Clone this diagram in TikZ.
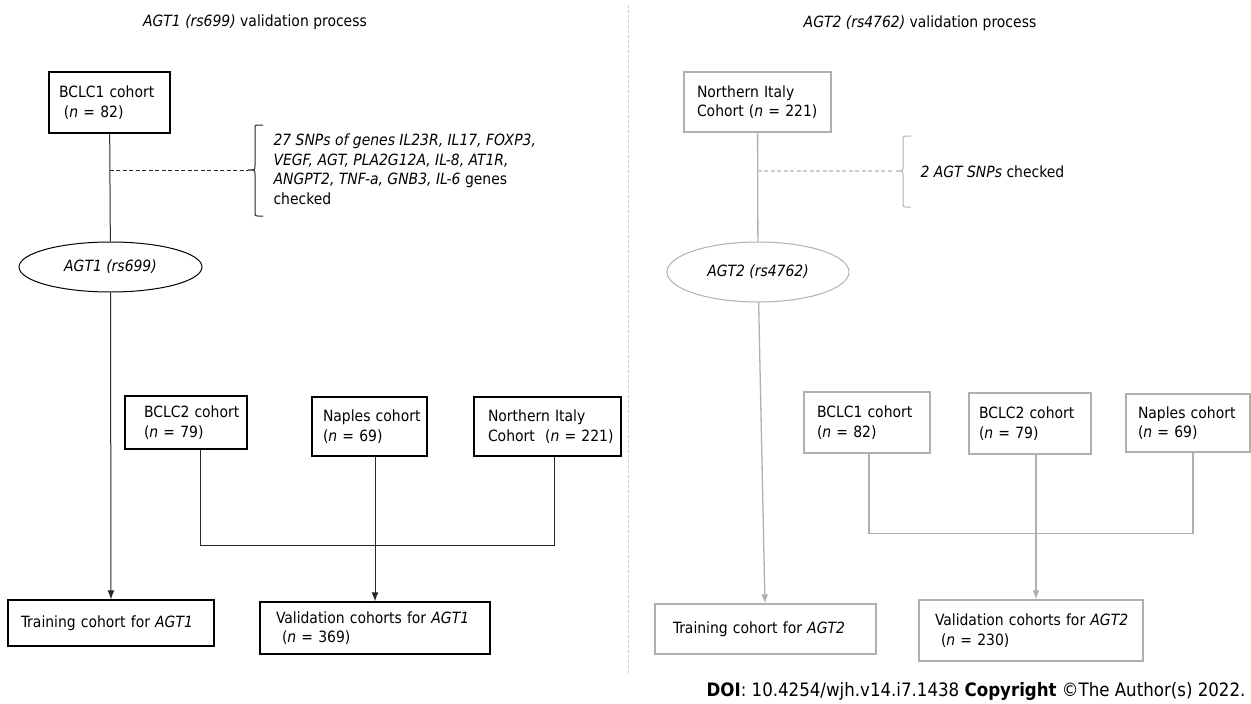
\documentclass[tikz,border=0pt]{standalone}
\usepackage{fontspec}
\setmainfont{DejaVu Sans Condensed}
\usetikzlibrary{arrows.meta,shapes.geometric}
\definecolor{inkline}{RGB}{40,40,40}
\definecolor{paleline}{RGB}{176,176,176}
\definecolor{paledash}{RGB}{205,205,205}
\newcommand{\snpbrace}[5]{\draw[#1,line width=1pt] ({#2+8},#3) -- ({#2+3},#3) .. controls (#2,#3) .. (#2,{#3+3}) -- (#2,{#4-4}) .. controls (#2,#4) .. ({#2-7},#4) .. controls (#2,#4) .. (#2,{#4+4}) -- (#2,{#5-3}) .. controls (#2,#5) .. ({#2+3},#5) -- ({#2+8},#5); }

\begin{document}
\begin{tikzpicture}[x=1pt,y=-1pt,>={Latex[length=9pt,width=7pt]},
  every node/.style={font=\fontsize{15.5}{19.5}\selectfont},
  cohort/.style={draw=black,line width=1.3pt,rectangle,align=left,inner ysep=0pt,
    execute at begin node={\hyphenpenalty=10000\exhyphenpenalty=10000\hbadness=10000\hfuzz=200pt}},
  cohortg/.style={cohort,draw=paleline},
  oval/.style={draw=black,line width=1pt,ellipse,inner sep=0pt,font=\fontsize{15.5}{19.5}\selectfont\itshape},
  ovalg/.style={oval,draw=paleline},
  link/.style={draw=inkline,line width=1pt},
  linkg/.style={draw=paleline,line width=1.3pt}]
  \useasboundingbox (0,0) rectangle (1251,704);
  % titles and divider
  \node (titleA) at (255,22) {\textit{AGT1 (rs699)} validation process};
  \node (titleB) at (920,23) {\textit{AGT2 (rs4762)} validation process};
  \draw[paledash,line width=1pt,dash pattern=on 3pt off 2pt] (628,5) -- (628,673);

  % AGT1 side
  \node[cohort,text width=101pt,inner xsep=10pt,minimum height=61pt] (bclcA) at (109.5,102.5) {BCLC1~cohort\\\hspace*{5pt}(\textit{n}~=~82)};
  \node[oval,minimum width=183pt,minimum height=50pt] (ellA) at (110.5,267) {AGT1 (rs699)};
  \node[cohort,text width=84pt,inner xsep=19pt,minimum height=53pt] (bclcB) at (186,422.5) {BCLC2~cohort\\(\textit{n}~=~79)};
  \node[cohort,text width=93pt,inner xsep=11pt,minimum height=59pt] (napA) at (369.5,426.5) {Naples~cohort\\(\textit{n}~=~69)};
  \node[cohort,text width=119pt,inner xsep=14pt,minimum height=59pt] (nitA) at (547.5,426.5) {Northern~Italy\\Cohort~~(\textit{n}~=~221)};
  \node[cohort,text width=180pt,inner xsep=13pt,minimum height=46pt] (trainA) at (111,623) {Training~cohort~for~\textit{AGT1}};
  \node[cohort,text width=198pt,inner xsep=16pt,minimum height=52pt] (valA) at (375,628) {Validation~cohorts~for~\textit{AGT1}\\\hspace*{6pt}(\textit{n}~=~369)};
  \coordinate (tipA) at (248,170);
  \node[anchor=west,align=left] (snpA) at (270,169) {\textit{27 SNPs of genes IL23R, IL17, FOXP3,}\\\textit{VEGF, AGT, PLA2G12A, IL-8, AT1R,}\\\textit{ANGPT2, TNF-a, GNB3, IL-6} genes\\checked};

  \draw[link] (bclcA) -- (ellA);
  \draw[link,dash pattern=on 4pt off 2.5pt] (bclcA.south |- tipA) -- (tipA);
  \snpbrace{inkline}{255}{125}{170}{216}
  \draw[link,->] (ellA) -- (trainA);
  \draw[link] ([xshift=14pt]bclcB.south) -- ++(0,96) -| ([xshift=6.5pt]nitA.south);
  \draw[link,->] ([xshift=5.5pt]napA.south) -- (valA.north);

  % AGT2 side
  \node[cohortg,text width=121pt,inner xsep=13pt,minimum height=60pt] (nitB) at (757.5,102) {Northern~Italy\\Cohort~(\textit{n}~=~221)};
  \node[ovalg,minimum width=182pt,minimum height=60pt] (ellB) at (758,272) {AGT2 (rs4762)};
  \node[cohortg,text width=100pt,inner xsep=13pt,minimum height=61pt] (bclcC) at (867,422.5) {BCLC1~cohort\\(\textit{n}~=~82)};
  \node[cohortg,text width=102pt,inner xsep=10pt,minimum height=61pt] (bclcD) at (1030,423.5) {BCLC2~cohort\\(\textit{n}~=~79)};
  \node[cohortg,text width=100pt,inner xsep=12pt,minimum height=58pt] (napB) at (1188,423) {Naples~cohort\\(\textit{n}~=~69)};
  \node[cohortg,text width=185pt,inner xsep=18pt,minimum height=50pt] (trainB) at (765.5,629) {Training~cohort~for~\textit{AGT2}};
  \node[cohortg,text width=192pt,inner xsep=16pt,minimum height=61pt] (valB) at (1031,630.5) {Validation~cohorts~for~\textit{AGT2}\\\hspace*{6pt}(\textit{n}~=~230)};
  \coordinate (tipB) at (893,171);
  \node[anchor=west] (snpB) at (917,172) {\textit{2 AGT SNPs} checked};

  \draw[linkg] (nitB) -- (ellB);
  \draw[draw=paledash,line width=1.2pt,dash pattern=on 4pt off 2.5pt] (nitB.south |- tipB) -- (tipB);
  \snpbrace{paleline}{903}{136}{171}{207}
  \draw[linkg,->] (ellB) -- (trainB);
  \draw[linkg] ([xshift=2pt]bclcC.south) -- ++(0,80) -| ([xshift=5pt]napB.south);
  \draw[linkg,->] ([xshift=6pt]bclcD.south) -- ([xshift=5pt]valB.north);

  \node[anchor=east,font=\fontsize{18.5}{22}\selectfont] (doi) at (1249,691) {\textbf{DOI}: 10.4254/wjh.v14.i7.1438 \textbf{Copyright} ©The Author(s) 2022.};
\end{tikzpicture}
\end{document}
